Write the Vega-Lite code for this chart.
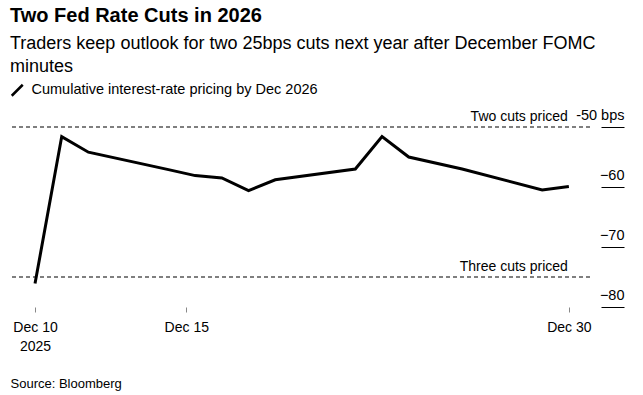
{
  "$schema": "https://vega.github.io/schema/vega-lite/v6.json",
  "width": 580,
  "height": 192,
  "autosize": {"type": "none"},
  "padding": {"left": 10, "top": 115, "right": 53, "bottom": 88},
  "background": "#ffffff",
  "config": {
    "font": "Liberation Sans",
    "view": {"stroke": null}
  },
  "title": {
    "text": "Two Fed Rate Cuts in 2026",
    "subtitle": ["Traders keep outlook for two 25bps cuts next year after December FOMC", "minutes"],
    "anchor": "start",
    "frame": "group",
    "font": "Liberation Sans",
    "fontSize": 20,
    "fontWeight": "bold",
    "color": "#000000",
    "subtitleFont": "Liberation Sans",
    "subtitleFontSize": 18,
    "subtitleLineHeight": 23,
    "subtitleColor": "#000000",
    "subtitlePadding": 9,
    "offset": 7
  },
  "datasets": {
    "pricing": [
      {"date": "2025-12-10T00:00:00", "bps": -76.1},
      {"date": "2025-12-11T00:00:00", "bps": -51.6},
      {"date": "2025-12-12T00:00:00", "bps": -54.2},
      {"date": "2025-12-15T00:00:00", "bps": -57.1},
      {"date": "2025-12-16T00:00:00", "bps": -58.1},
      {"date": "2025-12-17T00:00:00", "bps": -58.5},
      {"date": "2025-12-18T00:00:00", "bps": -60.6},
      {"date": "2025-12-19T00:00:00", "bps": -58.8},
      {"date": "2025-12-22T00:00:00", "bps": -57.0},
      {"date": "2025-12-23T00:00:00", "bps": -51.6},
      {"date": "2025-12-24T00:00:00", "bps": -55.0},
      {"date": "2025-12-26T00:00:00", "bps": -57.0},
      {"date": "2025-12-29T00:00:00", "bps": -60.5},
      {"date": "2025-12-30T00:00:00", "bps": -59.9}
    ],
    "refs": [
      {"label": "Two cuts priced", "bps": -50},
      {"label": "Three cuts priced", "bps": -75}
    ]
  },
  "layer": [
    {
      "data": {"name": "refs"},
      "mark": {"type": "rule", "stroke": "#000000", "strokeWidth": 1.2, "strokeDash": [4, 3]},
      "encoding": {
        "y": {"field": "bps", "type": "quantitative"}
      }
    },
    {
      "data": {"name": "refs"},
      "mark": {"type": "text", "align": "right", "baseline": "alphabetic", "dx": -1, "dy": -6, "fontSize": 14, "color": "#000000", "font": "Liberation Sans"},
      "encoding": {
        "x": {"datum": {"year": 2025, "month": 12, "date": 30}, "type": "temporal"},
        "y": {"field": "bps", "type": "quantitative"},
        "text": {"field": "label"}
      }
    },
    {
      "data": {"name": "pricing"},
      "mark": {"type": "line", "strokeWidth": 3, "strokeJoin": "miter", "strokeCap": "butt"},
      "encoding": {
        "x": {
          "field": "date",
          "type": "temporal",
          "scale": {
            "domain": [
              {"year": 2025, "month": 12, "date": 9, "hours": 1, "minutes": 30},
              {"year": 2025, "month": 12, "date": 30, "hours": 19}
            ]
          },
          "axis": {
            "title": "Source: Bloomberg",
            "titleFont": "Liberation Sans",
            "titleFontSize": 13,
            "titleFontWeight": "normal",
            "titleColor": "#000000",
            "titleAnchor": "start",
            "titleAlign": "left",
            "titleBaseline": "alphabetic",
            "titleX": 0,
            "titleY": 80,
            "domain": false,
            "grid": false,
            "values": [
              {"year": 2025, "month": 12, "date": 10},
              {"year": 2025, "month": 12, "date": 15, "hours": 16},
              {"year": 2025, "month": 12, "date": 30}
            ],
            "labelExpr": "date(datum.value) == 10 ? ['Dec 10', '2025'] : 'Dec ' + date(datum.value)",
            "tickSize": 5,
            "tickColor": "#888888",
            "tickOffset": 0,
            "labelPadding": 8,
            "labelFont": "Liberation Sans",
            "labelFontSize": 14,
            "labelColor": "#000000",
            "labelLineHeight": 19,
            "labelFlush": false,
            "labelOverlap": false
          }
        },
        "y": {
          "field": "bps",
          "type": "quantitative",
          "scale": {"domain": [-80, -48], "nice": false, "zero": false},
          "axis": {
            "orient": "right",
            "title": null,
            "domain": false,
            "grid": false,
            "offset": 11,
            "values": [-50, -60, -70, -80],
            "labelExpr": "datum.value == -50 ? '-50 bps' : datum.label",
            "tickSize": 23,
            "tickColor": "#000000",
            "tickWidth": 1,
            "labelAlign": "right",
            "labelBaseline": "alphabetic",
            "labelOffset": -8,
            "labelPadding": 0,
            "labelFont": "Liberation Sans",
            "labelFontSize": 14.5,
            "labelColor": "#000000",
            "labelFlush": false,
            "labelOverlap": false
          }
        },
        "color": {
          "datum": "Cumulative interest-rate pricing by Dec 2026",
          "type": "nominal",
          "scale": {"range": ["#000000"]},
          "legend": {
            "orient": "top",
            "title": null,
            "symbolType": "M-1,1L1,-1",
            "symbolSize": 121,
            "symbolStrokeWidth": 2.5,
            "symbolStrokeColor": "#000000",
            "labelFont": "Liberation Sans",
            "labelFontSize": 14.5,
            "labelColor": "#000000",
            "labelOffset": 7,
            "labelLimit": 0,
            "padding": 0,
            "offset": 14
          }
        }
      }
    }
  ]
}
